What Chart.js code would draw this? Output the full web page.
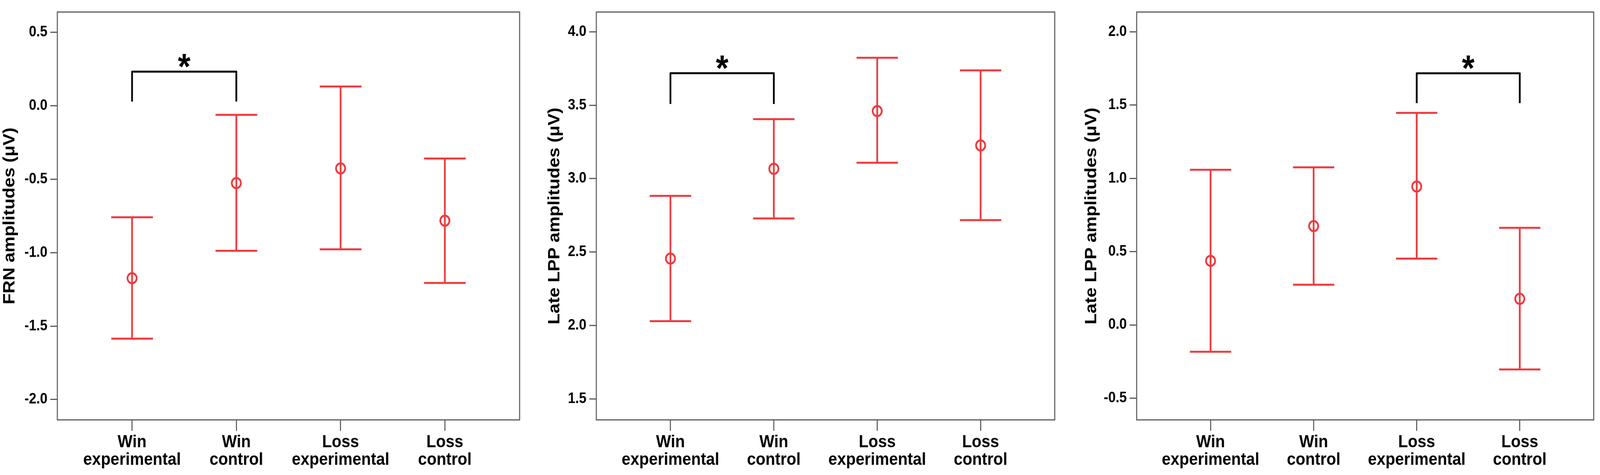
<!DOCTYPE html>
<html>
<head>
<meta charset="utf-8">
<script src="https://cdn.jsdelivr.net/npm/chart.js@4.4.1/dist/chart.umd.min.js"></script>
<style>
  html, body { margin: 0; padding: 0; background: #fff; overflow: hidden; }
  #wrap { position: relative; }
  canvas { position: absolute; top: 0; }
</style>
</head>
<body>
<div id="wrap"></div>
<script>
// categorias comunes a los tres paneles
const categories = [['Win', 'experimental'], ['Win', 'control'], ['Loss', 'experimental'], ['Loss', 'control']];

// Panel 1: FRN
const frnMean  = [-1.174, -0.526, -0.426, -0.782];
const frnUpper = [-0.759, -0.061, 0.132, -0.359];
const frnLower = [-1.586, -0.987, -0.977, -1.206];
const frnTicks = [-2.0, -1.5, -1.0, -0.5, 0.0, 0.5];

// Panel 2: Late LPP (win)
const lppMean  = [2.456, 3.067, 3.460, 3.226];
const lppUpper = [2.883, 3.405, 3.823, 3.737];
const lppLower = [2.030, 2.729, 3.108, 2.718];
const lppTicks = [1.5, 2.0, 2.5, 3.0, 3.5, 4.0];

// Panel 3: Late LPP
const lpp2Mean  = [0.437, 0.674, 0.944, 0.178];
const lpp2Upper = [1.058, 1.075, 1.446, 0.662];
const lpp2Lower = [-0.183, 0.274, 0.452, -0.304];
const lpp2Ticks = [-0.5, 0.0, 0.5, 1.0, 1.5, 2.0];

// Corchetes de significancia: [desde, hasta, altura, pie]
const frnBracket  = [0, 1, 0.233, 0.029];
const lppBracket  = [0, 1, 3.718, 3.508];
const lpp2Bracket = [2, 3, 1.716, 1.513];

const RED = '#ee3a3e';
const AXIS = '#5a5a5a';
const FONT = "'Liberation Sans', Arial, sans-serif";

// el dibujo se hace a 4550x1215 y el navegador lo estira a la ventana real
const W = window.innerWidth || 4550;
const H = window.innerHeight || 1215;
const SX = W / 4550;

Chart.defaults.font.family = FONT;

// Barras de error con sus topes
const errorBars = {
    id: 'errorBars',
    beforeDatasetsDraw(chart, args, opts) {
        const { ctx } = chart;
        const x = chart.scales.x, y = chart.scales.y;
        ctx.save();
        ctx.strokeStyle = RED;
        ctx.lineWidth = 5;
        opts.upper.forEach((up, i) => {
            const cx = x.getPixelForValue(i);
            const yu = y.getPixelForValue(up);
            const yl = y.getPixelForValue(opts.lower[i]);
            const l = x.getPixelForValue(i - opts.cap);
            const r = x.getPixelForValue(i + opts.cap);
            ctx.beginPath();
            ctx.moveTo(cx, yu); ctx.lineTo(cx, yl);
            ctx.moveTo(l, yu); ctx.lineTo(r, yu);
            ctx.moveTo(l, yl); ctx.lineTo(r, yl);
            ctx.stroke();
        });
        ctx.restore();
    }
};

// Marco completo alrededor del area del grafico
const frame = {
    id: 'frame',
    beforeDatasetsDraw(chart) {
        const { ctx, chartArea: a } = chart;
        ctx.save();
        ctx.strokeStyle = AXIS;
        ctx.lineWidth = 3;
        ctx.strokeRect(a.left, a.top, a.right - a.left, a.bottom - a.top);
        ctx.restore();
    }
};

// Corchete con asterisco
const sigBracket = {
    id: 'sigBracket',
    afterDatasetsDraw(chart, args, opts) {
        const { ctx } = chart;
        const x = chart.scales.x, y = chart.scales.y;
        const [from, to, top, foot] = opts.pair;
        const x0 = x.getPixelForValue(from), x1 = x.getPixelForValue(to);
        const yt = y.getPixelForValue(top), yf = y.getPixelForValue(foot);
        ctx.save();
        ctx.strokeStyle = '#000';
        ctx.lineWidth = 5;
        ctx.lineJoin = 'round';
        ctx.beginPath();
        ctx.moveTo(x0, yf); ctx.lineTo(x0, yt); ctx.lineTo(x1, yt); ctx.lineTo(x1, yf);
        ctx.stroke();
        ctx.font = 'bold 92px ' + FONT;
        ctx.fillStyle = '#000';
        ctx.textAlign = 'center';
        ctx.textBaseline = 'alphabetic';
        const m = ctx.measureText('*');
        const base = yt - 28 - (m.actualBoundingBoxDescent - m.actualBoundingBoxAscent) / 2;
        ctx.fillText('*', (x0 + x1) / 2, base);
        ctx.restore();
    }
};

const wrap = document.getElementById('wrap');
wrap.style.width = W + 'px';
wrap.style.height = H + 'px';

const makePanel = (cfg) => {
    try {
        const canvas = document.createElement('canvas');
        canvas.width = cfg.width;
        canvas.height = 1215;
        canvas.style.left = (cfg.left * SX) + 'px';
        canvas.style.width = (cfg.width * SX) + 'px';
        canvas.style.height = H + 'px';
        wrap.appendChild(canvas);

        new Chart(canvas, {
            type: 'scatter',
            data: {
                datasets: [{
                    data: cfg.mean.map((m, i) => ({ x: i, y: m })),
                    pointRadius: 13,
                    pointBorderWidth: 5,
                    pointBorderColor: RED,
                    pointBackgroundColor: 'rgba(0,0,0,0)',
                    showLine: false
                }]
            },
            options: {
                responsive: false,
                animation: false,
                devicePixelRatio: 1,
                layout: { padding: { top: 15, right: cfg.padRight, left: 0, bottom: 0 } },
                plugins: {
                    legend: { display: false },
                    tooltip: { enabled: false },
                    errorBars: { upper: cfg.upper, lower: cfg.lower, cap: 0.2 },
                    sigBracket: { pair: cfg.bracket }
                },
                scales: {
                    x: {
                        type: 'linear',
                        min: -0.717,
                        max: 3.717,
                        afterBuildTicks: s => { s.ticks = categories.map((c, i) => ({ value: i })); },
                        afterFit: s => { s.height = 141; },
                        border: { display: false },
                        grid: { drawOnChartArea: false, tickLength: 28, color: AXIS, lineWidth: 3 },
                        ticks: {
                            callback: v => categories[Math.round(v)],
                            color: '#000',
                            font: { size: 45, weight: 'bold', lineHeight: 0.98 },
                            padding: 8,
                            maxRotation: 0,
                            minRotation: 0,
                            autoSkip: false
                        }
                    },
                    y: {
                        type: 'linear',
                        min: cfg.min,
                        max: cfg.max,
                        afterBuildTicks: s => { s.ticks = cfg.ticks.map(v => ({ value: v })); },
                        afterFit: s => { s.width = cfg.areaLeft; },
                        border: { display: false },
                        grid: { drawOnChartArea: false, tickLength: 20, color: AXIS, lineWidth: 3 },
                        ticks: {
                            callback: v => v.toFixed(1),
                            color: '#000',
                            font: { size: 38, weight: 'bold' },
                            padding: 8
                        },
                        title: {
                            display: true,
                            text: cfg.title,
                            color: '#000',
                            font: { size: 46, weight: 'bold' },
                            padding: { top: cfg.titlePad, bottom: 0 }
                        }
                    }
                }
            },
            plugins: [frame, errorBars, sigBracket]
        });
    } catch (error) {
        console.error('Error al dibujar el panel:', error);
    }
};

makePanel({
    left: 0, width: 1500,
    mean: frnMean, upper: frnUpper, lower: frnLower, ticks: frnTicks,
    min: -2.139, max: 0.639, title: 'FRN amplitudes (μV)',
    areaLeft: 163, padRight: 22, titlePad: 1, bracket: frnBracket
});
makePanel({
    left: 1500, width: 1520,
    mean: lppMean, upper: lppUpper, lower: lppLower, ticks: lppTicks,
    min: 1.358, max: 4.134, title: 'Late LPP amplitudes (μV)',
    areaLeft: 196, padRight: 21, titlePad: 51, bracket: lppBracket
});
makePanel({
    left: 3020, width: 1530,
    mean: lpp2Mean, upper: lpp2Upper, lower: lpp2Lower, ticks: lpp2Ticks,
    min: -0.648, max: 2.134, title: 'Late LPP amplitudes (μV)',
    areaLeft: 212, padRight: 10, titlePad: 57, bracket: lpp2Bracket
});
</script>
</body>
</html>
